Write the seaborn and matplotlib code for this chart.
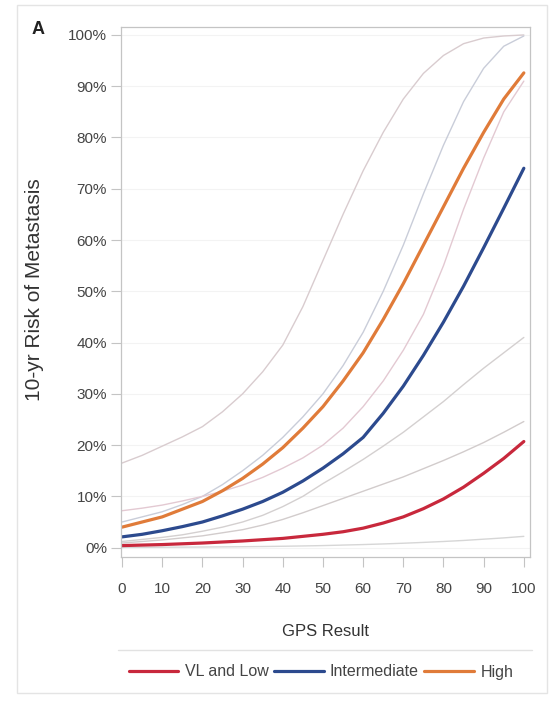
import matplotlib
matplotlib.use("Agg")
import matplotlib.pyplot as plt
from matplotlib.lines import Line2D
from matplotlib.patches import Rectangle
from matplotlib.ticker import PercentFormatter
import seaborn as sns
import pandas as pd

# GPS result grid (values every 5 units)
gps = [0, 5, 10, 15, 20, 25, 30, 35, 40, 45, 50, 55, 60, 65, 70, 75, 80, 85, 90, 95, 100]

# main risk curves (%)
vl_low = [0.4, 0.5, 0.6, 0.75, 0.9, 1.1, 1.3, 1.55, 1.8, 2.2, 2.6, 3.1, 3.8, 4.8, 6.0, 7.6, 9.5, 11.8, 14.5, 17.4, 20.7]
intermediate = [2.1, 2.6, 3.3, 4.1, 5.0, 6.2, 7.5, 9.0, 10.8, 13.0, 15.5, 18.3, 21.5, 26.2, 31.5, 37.5, 44.0, 51.0, 58.5, 66.2, 74.0]
high = [4.0, 5.0, 6.0, 7.5, 9.0, 11.1, 13.5, 16.3, 19.5, 23.3, 27.5, 32.5, 38.0, 44.5, 51.5, 59.0, 66.5, 74.0, 81.0, 87.5, 92.6]

# thin confidence limit lines (%)
ci_a = [16.5, 18.0, 19.8, 21.6, 23.6, 26.5, 30.0, 34.3, 39.5, 47.0, 56.0, 65.0, 73.5, 81.0, 87.5, 92.5, 96.0, 98.3, 99.4, 99.8, 100.0]
ci_b = [5.0, 6.0, 7.0, 8.4, 10.0, 12.3, 15.0, 18.0, 21.5, 25.5, 30.0, 35.5, 42.0, 50.0, 59.0, 69.0, 78.5, 87.0, 93.5, 97.8, 99.8]
ci_c = [7.2, 7.7, 8.3, 9.1, 10.0, 11.0, 12.2, 13.7, 15.5, 17.5, 20.0, 23.3, 27.5, 32.5, 38.5, 45.5, 55.0, 66.0, 76.0, 85.0, 91.0]
ci_d = [1.2, 1.6, 2.0, 2.5, 3.2, 4.0, 5.0, 6.3, 8.0, 10.0, 12.5, 14.8, 17.2, 19.8, 22.5, 25.5, 28.5, 31.8, 35.0, 38.0, 41.0]
ci_e = [0.9, 1.2, 1.5, 1.9, 2.3, 2.9, 3.5, 4.4, 5.5, 6.8, 8.2, 9.6, 11.0, 12.4, 13.8, 15.4, 17.0, 18.7, 20.5, 22.5, 24.6]
ci_f = [0.05, 0.06, 0.08, 0.1, 0.12, 0.15, 0.18, 0.22, 0.27, 0.33, 0.4, 0.5, 0.6, 0.72, 0.86, 1.02, 1.2, 1.4, 1.65, 1.9, 2.2]

groups = ["VL and Low", "Intermediate", "High"]
group_colors = ["#c8283c", "#2c4a8e", "#e07b39"]
ci_colors = ["#d9cccf", "#c9cdd9", "#e3c9d2", "#d4d0d0", "#d2cccc", "#d6d6d6"]

main = pd.DataFrame({
    "gps": gps * 3,
    "risk": vl_low + intermediate + high,
    "group": [g for g in groups for _ in gps],
})
ci_names = ["a", "b", "c", "d", "e", "f"]
ci = pd.DataFrame({
    "gps": gps * 6,
    "risk": ci_a + ci_b + ci_c + ci_d + ci_e + ci_f,
    "band": [n for n in ci_names for _ in gps],
})

sns.set_theme(style="white")
plt.rcParams["font.family"] = ["Liberation Sans", "DejaVu Sans"]

fig = plt.figure(figsize=(5.57, 7.04), dpi=100)
ax = fig.add_axes([0.217, 0.209, 0.735, 0.753])

sns.lineplot(data=ci, x="gps", y="risk", hue="band", palette=ci_colors,
             linewidth=1.0, legend=False, ax=ax)
sns.lineplot(data=main, x="gps", y="risk", hue="group", palette=group_colors,
             linewidth=2.3, ax=ax)

ax.set_xlim(-0.3, 101.6)
ax.set_ylim(-1.8, 101.6)
ax.set_xticks(range(0, 101, 10))
ax.set_yticks(range(0, 101, 10))
ax.yaxis.set_major_formatter(PercentFormatter(decimals=0))
ax.grid(axis="y", color="#f3f3f3", linewidth=0.8)
for s in ax.spines.values():
    s.set_color("#c4c4c4")
    s.set_linewidth(0.9)
ax.tick_params(axis="x", length=7, width=0.8, color="#c4c4c4", pad=11,
               labelsize=11, labelcolor="#444444", bottom=True)
ax.tick_params(axis="y", length=7, width=0.8, color="#c4c4c4", pad=3,
               labelsize=11, labelcolor="#444444", left=True)
ax.set_xlabel("GPS Result", fontsize=12, color="#333333", labelpad=20)
ax.set_ylabel("")
fig.text(35 / 557, 1 - 290 / 704, "10-yr Risk of Metastasis", rotation=90,
         ha="center", va="center", fontsize=15, color="#333333")
fig.text(38 / 557, 1 - 29 / 704, "A", ha="center", va="center",
         fontsize=13, fontweight="bold", color="#222222")

handles, labels = ax.get_legend_handles_labels()
ax.legend(handles, labels, loc="center", bbox_to_anchor=(321 / 557, 1 - 672 / 704),
          bbox_transform=fig.transFigure, ncol=3, frameon=False, fontsize=11.5,
          handlelength=3.1, handletextpad=0.4, columnspacing=0.35,
          labelcolor="#444444")

# separator above legend and the outer frame
fig.add_artist(Line2D([118 / 557, 532 / 557], [1 - 650 / 704, 1 - 650 / 704],
                      transform=fig.transFigure, color="#e2e2e2", linewidth=1))
fig.add_artist(Rectangle((17 / 557, 1 - 693 / 704), 530 / 557, 688 / 704,
                         transform=fig.transFigure, fill=False,
                         edgecolor="#e4e4e4", linewidth=1))

fig.savefig("out.png", dpi=100)
